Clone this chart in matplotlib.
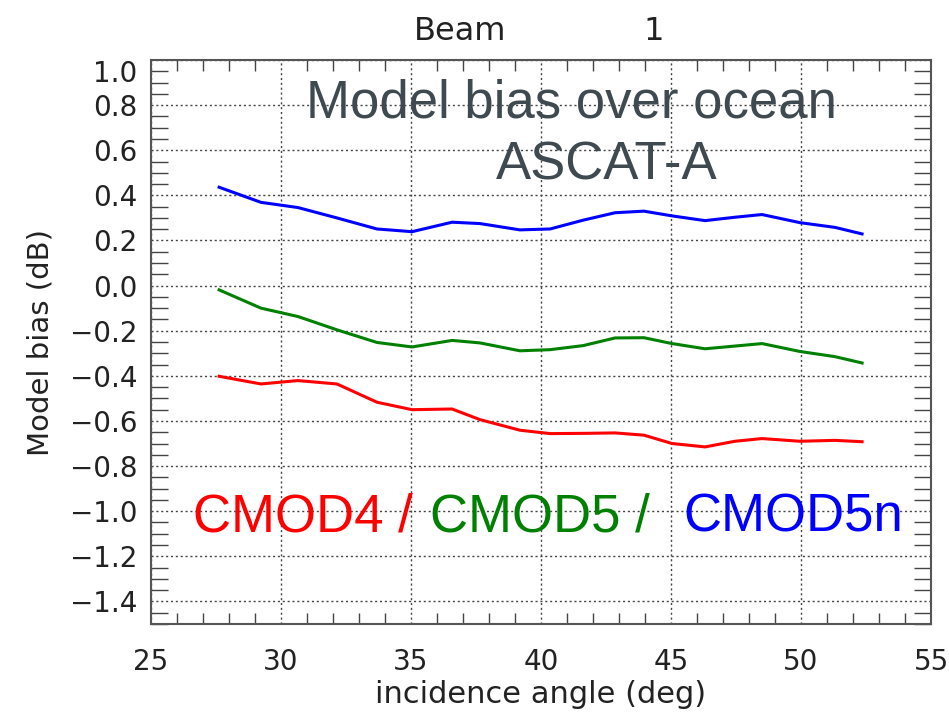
import matplotlib
matplotlib.use("Agg")
import matplotlib.pyplot as plt
from matplotlib.ticker import MultipleLocator
from matplotlib.transforms import ScaledTranslation

plt.rcParams["font.family"] = ["DejaVu Sans"]

# incidence angles (deg)
angles = [27.62, 29.23, 30.65, 32.15, 33.69, 35.04, 36.58, 37.65, 39.19, 40.35,
          41.62, 42.85, 43.96, 45.04, 46.31, 47.46, 48.50, 49.96, 51.31, 52.35]

# model bias (dB)
cmod4 = [-0.402, -0.436, -0.421, -0.436, -0.517, -0.550, -0.547, -0.594, -0.641, -0.656,
         -0.655, -0.653, -0.663, -0.700, -0.715, -0.690, -0.678, -0.690, -0.686, -0.692]
cmod5 = [-0.019, -0.100, -0.137, -0.196, -0.252, -0.272, -0.243, -0.254, -0.289, -0.284,
         -0.266, -0.232, -0.231, -0.257, -0.280, -0.268, -0.257, -0.292, -0.315, -0.343]
cmod5n = [0.436, 0.369, 0.346, 0.300, 0.251, 0.239, 0.281, 0.275, 0.247, 0.251,
          0.290, 0.323, 0.330, 0.309, 0.288, 0.303, 0.315, 0.279, 0.258, 0.229]

W, H = 949, 716
fig = plt.figure(figsize=(W / 100, H / 100), dpi=100)
ax = fig.add_axes([151 / W, 1 - 624 / H, (931 - 151) / W, (624 - 60) / H])

ax.plot(angles, cmod4, color="#ff0000", lw=2.2)
ax.plot(angles, cmod5, color="#008000", lw=2.2)
ax.plot(angles, cmod5n, color="#0000ff", lw=2.2)

ax.set_xlim(25, 55)
ax.set_ylim(-1.5, 1.0)
ax.xaxis.set_major_locator(MultipleLocator(5))
ax.xaxis.set_minor_locator(MultipleLocator(1))
ax.yaxis.set_major_locator(MultipleLocator(0.2))
ax.yaxis.set_minor_locator(MultipleLocator(0.05))
ax.yaxis.set_major_formatter(plt.FuncFormatter(lambda v, p: f"{v:.1f}".replace("-", "\u2212")))

txt = "#222222"
ax.grid(True, which="major", linestyle=(0, (1.5, 2)), color="#444444", lw=1)
ax.tick_params(which="major", length=0, labelsize=20, labelcolor=txt)
ax.tick_params(axis="x", which="major", pad=17)
ax.tick_params(axis="y", which="major", pad=10)
ax.tick_params(axis="x", which="minor", direction="in", length=8, width=1,
               color="#444444", top=True, bottom=True)
ax.tick_params(axis="y", which="minor", direction="in", length=12, width=1,
               color="#444444", left=True, right=True)
for s in ax.spines.values():
    s.set_color("#555555")
    s.set_linewidth(1.5)

ax.set_xlabel("incidence angle (deg)", fontsize=22, color=txt, labelpad=3)
ax.set_ylabel("Model bias (dB)", fontsize=21, color=txt, labelpad=11)

fig.text(414 / W, 1 - 32 / H, "Beam", fontsize=23, color=txt, va="center")
fig.text(643 / W, 1 - 32 / H, "1", fontsize=23, color=txt, va="center")

grey = "#3f4a50"
big = dict(fontsize=38, family="Liberation Sans", va="center")
fig.text(571 / W, 1 - 103 / H, "Model bias over ocean", color=grey, ha="center", **big)
fig.text(607 / W, 1 - 165 / H, "ASCAT-A", color=grey, ha="center", **big)
fig.text(193 / W, 1 - 517 / H, "CMOD4 /", color="#ff0000", ha="left", **big)
fig.text(430 / W, 1 - 517 / H, "CMOD5 /", color="#008000", ha="left", **big)
fig.text(683 / W, 1 - 517 / H, "CMOD5n", color="#0000ff", ha="left", **big)

# the top label sits a little lower, as in the original
fig.canvas.draw()
for t in ax.yaxis.get_major_ticks():
    if abs(t.get_loc() - 1.0) < 1e-6:
        t.label1.set_transform(t.label1.get_transform() + ScaledTranslation(0, -11 / 100, fig.dpi_scale_trans))

fig.savefig("out.png", dpi=100)
